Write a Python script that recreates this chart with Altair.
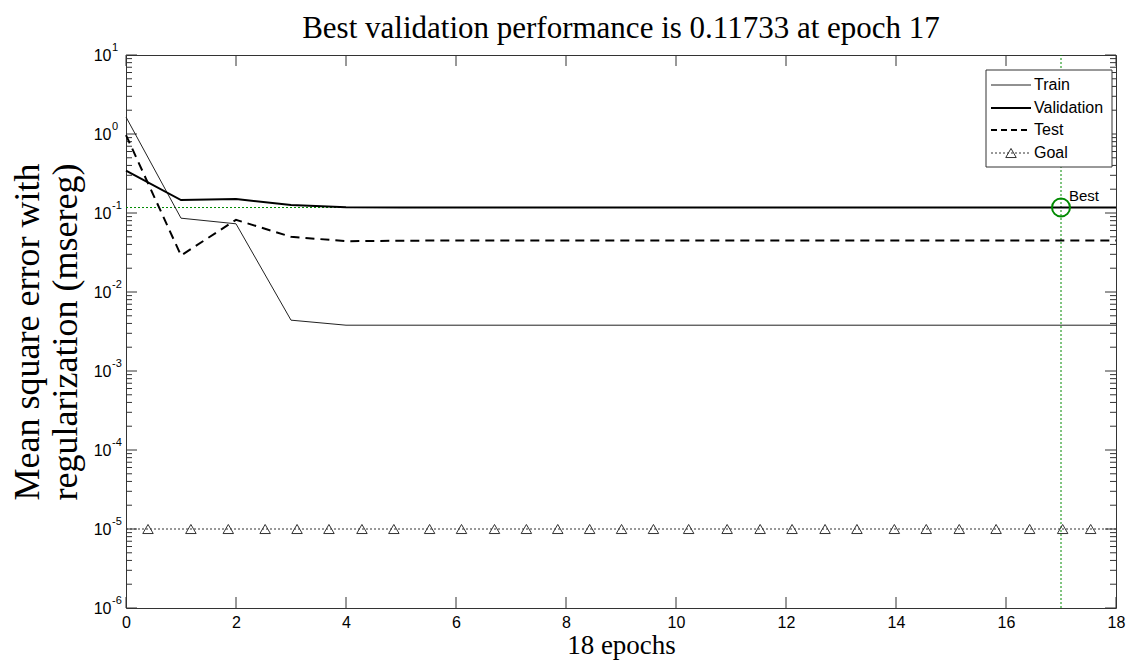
import altair as alt
import pandas as pd

# ---------------- data ----------------
epochs = [0, 1, 2, 3, 4, 5, 6, 7, 8, 9, 10, 11, 12, 13, 14, 15, 16, 17, 18]
train = [1.64, 0.086, 0.073, 0.0044, 0.0038, 0.0038, 0.0038, 0.0038, 0.0038, 0.0038,
         0.0038, 0.0038, 0.0038, 0.0038, 0.0038, 0.0038, 0.0038, 0.0038, 0.0038]
validation = [0.343, 0.146, 0.150, 0.126, 0.118, 0.1175, 0.1174, 0.1174, 0.1174, 0.1174,
              0.1174, 0.1174, 0.1174, 0.1174, 0.1174, 0.1174, 0.1174, 0.11733, 0.1174]
test = [0.97, 0.029, 0.082, 0.050, 0.044, 0.0445, 0.045, 0.045, 0.045, 0.045,
        0.045, 0.045, 0.045, 0.045, 0.045, 0.045, 0.045, 0.045, 0.045]
goal = 1e-5
goal_marker_epochs = [0.40, 1.18, 1.86, 2.53, 3.11, 3.69, 4.29, 4.87, 5.52, 6.10,
                      6.70, 7.28, 7.85, 8.43, 9.01, 9.59, 10.23, 10.93, 11.53, 12.11,
                      12.71, 13.29, 13.97, 14.55, 15.15, 15.82, 16.43, 17.03, 17.54]
best_epoch = 17
best_value = 0.11733
x_domain = [0, 18]
y_domain = [1e-6, 10]
x_ticks = [0, 2, 4, 6, 8, 10, 12, 14, 16, 18]
y_ticks = [1e-6, 1e-5, 1e-4, 1e-3, 1e-2, 1e-1, 1e0, 1e1]
y_tick_base = "10"
y_tick_exponents = ["-6", "-5", "-4", "-3", "-2", "-1", "0", "1"]
y_minor_ticks = [k * 10.0 ** e for e in range(-6, 1) for k in range(2, 10)]
legend_labels = ["Train", "Validation", "Test", "Goal"]
title_text = "Best validation performance is 0.11733 at epoch 17"
x_title = "18 epochs"
y_title = ["Mean square error with", "regularization (msereg)"]

# ---------------- layout ----------------
W, H = 990, 553
FRAME = "#333333"
GREEN = "#008a00"

xscale = alt.Scale(domain=x_domain, nice=False, zero=False)
yscale = alt.Scale(type="log", domain=y_domain, nice=False)
xaxis = alt.Axis(values=x_ticks, title=x_title, labelPadding=6, titlePadding=2,
                 titleFont="Liberation Serif", titleFontSize=27, titleFontWeight="normal",
                 labelFlush=False)
yaxis = alt.Axis(values=y_ticks, labelExpr=f"'{y_tick_base}'", title=y_title, labelPadding=15,
                 titlePadding=9, titleFont="Liberation Serif", titleFontSize=36,
                 titleFontWeight="normal", titleLineHeight=38, labelFlush=False)


def X(field="epoch"):
    return alt.X(f"{field}:Q", scale=xscale, axis=xaxis)


def Y(field="value"):
    return alt.Y(f"{field}:Q", scale=yscale, axis=yaxis)


layers = []

# inward ticks
xt = pd.DataFrame({"epoch": x_ticks})
layers.append(alt.Chart(xt).mark_rule(color=FRAME, strokeWidth=1).encode(
    x=X(), y=alt.value(H), y2=alt.value(H - 11)))
layers.append(alt.Chart(xt).mark_rule(color=FRAME, strokeWidth=1).encode(
    x=X(), y=alt.value(0), y2=alt.value(11)))
yt = pd.DataFrame({"value": y_ticks, "exp": y_tick_exponents})
ym = pd.DataFrame({"value": y_minor_ticks})
layers.append(alt.Chart(yt).mark_rule(color=FRAME, strokeWidth=1).encode(
    y=Y(), x=alt.value(0), x2=alt.value(11)))
layers.append(alt.Chart(yt).mark_rule(color=FRAME, strokeWidth=1).encode(
    y=Y(), x=alt.value(W), x2=alt.value(W - 11)))
layers.append(alt.Chart(ym).mark_rule(color=FRAME, strokeWidth=1).encode(
    y=Y(), x=alt.value(0), x2=alt.value(6)))
layers.append(alt.Chart(ym).mark_rule(color=FRAME, strokeWidth=1).encode(
    y=Y(), x=alt.value(W), x2=alt.value(W - 6)))
# superscript exponents of the y tick labels
layers.append(alt.Chart(yt).mark_text(
    align="left", baseline="middle", dy=-7, font="Liberation Sans", fontSize=11,
    color="black").encode(y=Y(), x=alt.value(-14), text="exp:N"))

# best lines
layers.append(alt.Chart(pd.DataFrame({"epoch": [x_domain[0]], "epoch2": [x_domain[1]],
                                      "value": [best_value]})).mark_rule(
    color=GREEN, strokeWidth=1, strokeDash=[2, 2]).encode(x=X(), x2="epoch2:Q", y=Y()))
layers.append(alt.Chart(pd.DataFrame({"epoch": [best_epoch], "value": [y_domain[0]],
                                      "value2": [y_domain[1]]})).mark_rule(
    color=GREEN, strokeWidth=1, strokeDash=[2, 2]).encode(x=X(), y=Y(), y2="value2:Q"))

# goal
layers.append(alt.Chart(pd.DataFrame({"epoch": [x_domain[0]], "epoch2": [x_domain[1]],
                                      "value": [goal]})).mark_rule(
    color=FRAME, strokeWidth=1, strokeDash=[2, 2]).encode(x=X(), x2="epoch2:Q", y=Y()))
layers.append(alt.Chart(pd.DataFrame({"epoch": goal_marker_epochs,
                                      "value": [goal] * len(goal_marker_epochs)})).mark_point(
    shape="triangle-up", filled=False, size=110, color=FRAME, strokeWidth=1, opacity=1).encode(
    x=X(), y=Y()))

# series
layers.append(alt.Chart(pd.DataFrame({"epoch": epochs, "value": train})).mark_line(
    color="#222222", strokeWidth=1).encode(x=X(), y=Y()))
layers.append(alt.Chart(pd.DataFrame({"epoch": epochs, "value": test})).mark_line(
    color="black", strokeWidth=2, strokeDash=[9, 6]).encode(x=X(), y=Y()))
layers.append(alt.Chart(pd.DataFrame({"epoch": epochs, "value": validation})).mark_line(
    color="black", strokeWidth=2).encode(x=X(), y=Y()))

# best marker
best_df = pd.DataFrame({"epoch": [best_epoch], "value": [best_value]})
layers.append(alt.Chart(best_df).mark_point(
    shape="circle", filled=False, size=324, color=GREEN, strokeWidth=2, opacity=1).encode(
    x=X(), y=Y()))
layers.append(alt.Chart(best_df).mark_text(
    text="Best", align="left", baseline="middle", dx=8, dy=-12, font="Liberation Sans",
    fontSize=15, color="black").encode(x=X(), y=Y()))

# legend box
one = pd.DataFrame({"a": [0]})
LX1 = W - 4
LX0, LY0, LY1 = LX1 - 126, 15, 112
layers.append(alt.Chart(one).mark_rect(fill="white", stroke=FRAME, strokeWidth=1).encode(
    x=alt.value(LX0), x2=alt.value(LX1), y=alt.value(LY0), y2=alt.value(LY1)))
rows_y = [30, 53, 75, 98]
styles = [dict(color="#222222", strokeWidth=1),
          dict(color="black", strokeWidth=2),
          dict(color="black", strokeWidth=2, strokeDash=[6, 4]),
          dict(color=FRAME, strokeWidth=1, strokeDash=[2, 2])]
for lab, ry, st in zip(legend_labels, rows_y, styles):
    layers.append(alt.Chart(one).mark_rule(**st).encode(
        x=alt.value(LX0 + 5), x2=alt.value(LX0 + 45), y=alt.value(ry)))
    layers.append(alt.Chart(one).mark_text(
        text=lab, align="left", baseline="middle", font="Liberation Sans", fontSize=16,
        color="black").encode(x=alt.value(LX0 + 48), y=alt.value(ry)))
layers.append(alt.Chart(one).mark_point(
    shape="triangle-up", filled=False, size=110, color=FRAME, strokeWidth=1, opacity=1).encode(
    x=alt.value(LX0 + 25), y=alt.value(rows_y[3])))

chart = alt.layer(*layers).properties(
    width=W, height=H,
    title=alt.TitleParams(title_text, font="Liberation Serif", fontSize=31,
                          fontWeight="normal", color="black", anchor="middle", offset=-3),
    autosize=alt.AutoSizeParams(type="none"),
    padding={"left": 118, "top": 47, "right": 10, "bottom": 52},
    background="white",
).configure_view(stroke=FRAME, strokeWidth=1).configure_axis(
    domain=False, ticks=False, grid=False, labelFont="Liberation Sans", labelFontSize=16,
    labelColor="black", titleColor="black")

chart.save("out.html", embed_options={"renderer": "svg", "actions": False})
